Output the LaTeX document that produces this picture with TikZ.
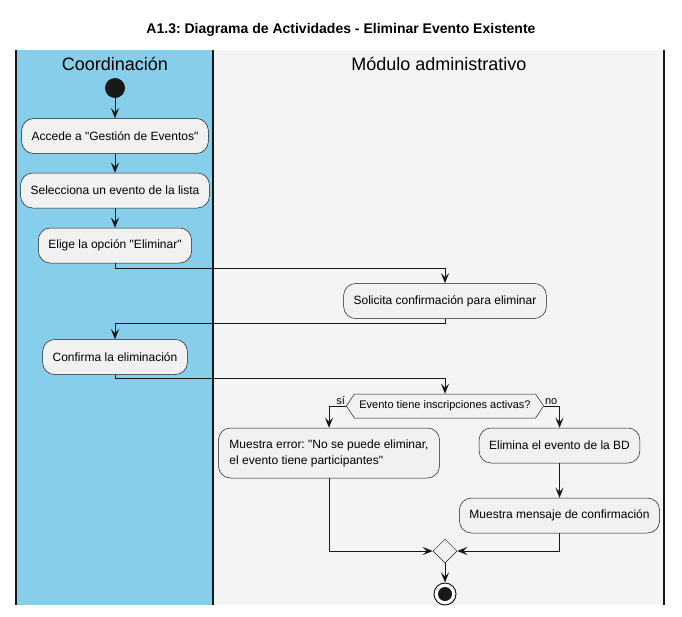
\documentclass[tikz,border=0pt]{standalone}
\usepackage{fontspec}
\setmainfont{Liberation Sans}
\usetikzlibrary{arrows.meta,shapes.geometric,shapes.symbols,calc}
\definecolor{lanea}{HTML}{87CEEB}
\definecolor{laneb}{HTML}{F4F4F4}
\definecolor{boxfill}{HTML}{F1F1F1}
\definecolor{ink}{HTML}{181818}
\frenchspacing
\newcommand{\qq}{\textquotedbl}
\begin{document}
\begin{tikzpicture}[x=1pt,y=-1pt,
  act/.style={draw=ink, line width=0.5pt, fill=boxfill, rounded corners=12pt,
    minimum height=35pt, inner xsep=10pt, inner ysep=4pt, font=\fontsize{12}{16}\selectfont},
  flow/.style={draw=ink, line width=1pt, rounded corners=0pt,
    -{Stealth[length=10pt,width=8pt,inset=4pt]}},
  lanehead/.style={font=\fontsize{18}{22}\selectfont, text=black},
  lanerule/.style={draw=ink, line width=1.5pt},
  guard/.style={font=\fontsize{11}{13}\selectfont, inner sep=0pt},
  decide/.style={signal, signal to=west and east, signal pointer angle=113,
    draw=ink, line width=0.5pt, fill=boxfill, minimum height=24pt,
    inner xsep=5pt, inner ysep=2pt, font=\fontsize{11}{13}\selectfont},
  merge/.style={diamond, draw=ink, line width=0.5pt, fill=boxfill,
    minimum width=24pt, minimum height=24pt, inner sep=0pt},
]
\useasboundingbox (0,0) rectangle (682,616);
% lanes
\fill[lanea] (16,50) rectangle (213,605);
\fill[laneb] (213,50) rectangle (664,605);
\draw[lanerule] (16,50) -- (16,605);
\draw[lanerule] (213,50) -- (213,605);
\draw[lanerule] (664,50) -- (664,605);
% title and headers
\node[font=\fontsize{14}{17}\bfseries\selectfont] (title) at (341,30)
  {A1.3: Diagrama de Actividades - Eliminar Evento Existente};
\node[lanehead] (hcoord) at (115,64) {Coordinación};
\node[lanehead] (hmod) at (439,64) {Módulo administrativo};
% nodes
\node[circle, fill=ink, minimum size=20pt, inner sep=0pt] (start) at (115,88) {};
\node[act] (b1) at (115,136) {Accede a \qq Gestión de Eventos\qq};
\node[act] (b2) at (115,190.5) {Selecciona un evento de la lista};
\node[act] (b3) at (115,245.5) {Elige la opción \qq Eliminar\qq};
\node[act] (b4) at (445,301) {Solicita confirmación para eliminar};
\node[act] (b5) at (115,357) {Confirma la eliminación};
\node[decide] (dec) at (445,406) {Evento tiene inscripciones activas?};
\node[act, align=left, minimum height=50pt, inner xsep=11pt] (b6) at (329,453)
  {Muestra error: \qq No se puede eliminar,\\el evento tiene participantes\qq};
\node[act] (b7) at (559.5,445.5) {Elimina el evento de la BD};
\node[act] (b8) at (559.5,515.5) {Muestra mensaje de confirmación};
\node[merge] (m) at (445,551) {};
\node[circle, draw=ink, line width=1pt, fill=white, minimum size=22pt, inner sep=0pt] (stop) at (445,594) {};
\node[circle, fill=ink, minimum size=14pt, inner sep=0pt] (stopdot) at (stop.center) {};
\node[guard, anchor=south east] (lsi) at ($(dec.180)+(-1,-1)$) {sí};
\node[guard, anchor=south west] (lno) at ($(dec.0)+(1,-1)$) {no};
% connectors
\draw[flow] (start) -- (b1);
\draw[flow] (b1) -- (b2);
\draw[flow] (b2) -- (b3);
\draw[flow] (b3.south) -- ++(0,5) -| (b4.north);
\draw[flow] (b4.south) -- ++(0,5) -| (b5.north);
\draw[flow] (b5.south) -- ++(0,4) -| (dec.north);
\draw[flow] (dec.180) -| (b6.north);
\draw[flow] (dec.0) -| (b7.north);
\draw[flow] (b7) -- (b8);
\draw[flow] (b6.south) |- (m.west);
\draw[flow] (b8.south) |- (m.east);
\draw[flow] (m.south) -- (stop.north);
\end{tikzpicture}
\end{document}
